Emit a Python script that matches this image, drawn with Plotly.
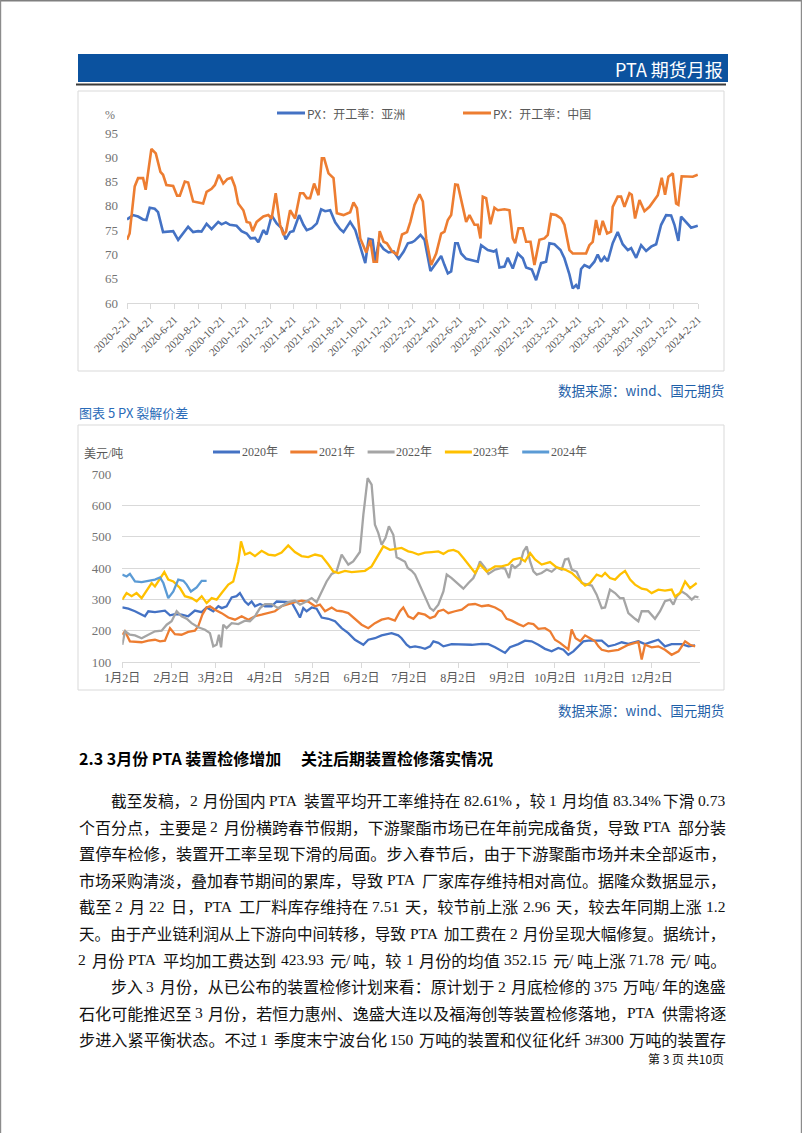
import numpy as np
import pandas as pd
import plotly.graph_objects as go

W, H = 802, 1133


def fx(x):
    return x / W


def fy(y):
    return 1 - y / H


# ---------------- Chart 1: PX operating rate (months since 2020-02-21, %) ----------------
c1_start = "2020-02-21"
asia_points = [
    (0, 77.2), (0.51, 78.1), (0.93, 77.8), (1.35, 77.2), (1.63, 77.1), (1.91, 79.6), (2.33, 79.4), (2.61, 78.7),
    (3.03, 74.6), (3.88, 74.8), (4.30, 73.0), (4.72, 74.3), (5.14, 75.7), (5.56, 74.6), (5.98, 74.8), (6.26, 74.7),
    (6.69, 76.3), (7.11, 75.2), (7.67, 76.7), (7.95, 76.2), (8.31, 76.6), (8.65, 76.1), (9.21, 75.9), (9.63, 74.8),
    (10.06, 74.3), (10.39, 73.3), (10.76, 73.4), (11.04, 72.5), (11.46, 75.0), (11.74, 74.1), (12.16, 78.0),
    (12.58, 76.4), (13.01, 75.4), (13.34, 73.1), (13.71, 74.6), (13.99, 74.8), (14.47, 78.1), (14.83, 76.1),
    (15.11, 75.0), (15.53, 75.4), (15.96, 76.4), (16.32, 79.3), (16.66, 78.9), (17.08, 79.1), (17.50, 76.6),
    (17.92, 75.2), (18.20, 74.6), (18.76, 76.7), (19.19, 75.0), (19.61, 71.6), (20.03, 68.2), (20.31, 73.2),
    (20.65, 73.0), (20.87, 68.5), (21.15, 72.5), (21.57, 71.1), (21.99, 70.4), (22.42, 70.6), (22.84, 69.1),
    (23.26, 70.6), (23.61, 72.3), (23.96, 72.5), (24.17, 72.8), (24.67, 74.0), (25.01, 73.0), (25.51, 66.6),
    (25.99, 68.2), (26.41, 69.7), (26.69, 67.8), (26.97, 66.1), (27.25, 66.5), (27.59, 72.3), (27.81, 72.3),
    (28.09, 70.2), (28.51, 69.1), (28.93, 68.9), (29.49, 68.5), (29.77, 71.9), (30.33, 70.9), (30.83, 70.6),
    (31.03, 70.9), (31.31, 67.3), (31.73, 67.5), (32.01, 69.3), (32.43, 67.1), (32.85, 70.2), (33.27, 69.2),
    (33.55, 67.3), (34.03, 66.9), (34.39, 64.7), (34.81, 68.2), (35.23, 68.5), (35.51, 72.3), (35.93, 72.1),
    (36.44, 70.9), (36.77, 69.2), (37.19, 65.9), (37.47, 63.0), (37.75, 63.7), (37.95, 62.9), (38.17, 67.0),
    (38.45, 67.8), (38.87, 67.3), (39.29, 68.5), (39.57, 70.0), (39.85, 68.5), (40.13, 69.5), (40.41, 68.6),
    (40.83, 72.3), (41.25, 74.6), (41.67, 72.1), (42.10, 70.9), (42.38, 71.3), (42.80, 69.3), (43.22, 71.9),
    (43.64, 70.7), (44.06, 71.6), (44.48, 72.1), (44.90, 76.1), (45.32, 78.1), (45.74, 78.0), (46.02, 76.1),
    (46.35, 72.8), (46.58, 77.8), (47.00, 76.7), (47.42, 75.5), (47.70, 75.7), (47.98, 75.9),
]
china_points = [
    (0, 73.0), (0.22, 74.3), (0.65, 84.0), (0.93, 85.7), (1.35, 85.7), (1.57, 83.3), (2.05, 91.7), (2.42, 90.8),
    (2.81, 87.0), (3.03, 86.4), (3.31, 84.3), (3.88, 84.1), (4.21, 82.1), (4.44, 82.1), (4.86, 85.0), (5.14, 84.8),
    (5.56, 80.9), (6.12, 80.7), (6.40, 80.5), (6.69, 82.9), (7.11, 83.5), (7.39, 84.3), (7.72, 86.4), (8.09, 84.6),
    (8.43, 85.5), (8.79, 85.8), (9.07, 84.0), (9.35, 80.5), (9.78, 79.1), (10.06, 76.7), (10.34, 76.5),
    (10.56, 74.8), (10.90, 76.7), (11.46, 77.8), (11.88, 78.1), (12.16, 77.4), (12.50, 82.6), (12.87, 76.1),
    (13.15, 74.0), (13.37, 74.7), (13.71, 79.1), (14.13, 77.4), (14.55, 82.6), (14.83, 82.6), (15.11, 81.6),
    (15.39, 81.6), (15.73, 84.6), (16.10, 82.2), (16.38, 89.8), (16.57, 89.8), (16.94, 86.7), (17.36, 85.7),
    (17.64, 78.5), (18.20, 78.1), (18.76, 78.7), (19.04, 80.7), (19.33, 79.5), (19.61, 73.3), (20.11, 70.4),
    (20.45, 73.0), (20.73, 68.5), (21.01, 68.5), (21.24, 74.8), (21.57, 72.6), (21.85, 72.3), (22.28, 70.6),
    (22.70, 70.0), (23.12, 74.1), (23.54, 74.6), (23.82, 76.7), (24.17, 80.2), (24.59, 82.4), (24.87, 80.9),
    (25.15, 73.3), (25.57, 67.8), (25.99, 70.2), (26.41, 74.3), (26.69, 74.7), (26.97, 77.1), (27.25, 78.1),
    (27.59, 84.4), (27.81, 84.3), (28.09, 81.2), (28.51, 76.7), (28.79, 78.1), (29.21, 76.1), (29.49, 76.1),
    (29.71, 73.3), (29.91, 81.9), (30.19, 81.6), (30.55, 76.2), (30.89, 79.6), (31.17, 79.1), (31.73, 79.3),
    (32.15, 79.1), (32.43, 73.3), (32.63, 72.3), (32.91, 75.4), (33.27, 75.4), (33.55, 72.6), (33.92, 72.6),
    (34.25, 67.8), (34.67, 73.0), (35.09, 73.3), (35.37, 74.0), (35.65, 78.3), (36.07, 78.1), (36.49, 77.4),
    (36.77, 76.1), (37.19, 70.9), (37.47, 70.2), (38.17, 70.2), (38.59, 70.2), (38.87, 71.9), (39.15, 72.6),
    (39.43, 77.1), (39.71, 74.0), (39.99, 76.9), (40.36, 74.3), (40.69, 74.7), (40.83, 79.8), (41.25, 81.9),
    (41.53, 81.9), (41.82, 79.8), (42.24, 82.6), (42.43, 82.3), (42.71, 77.4), (43.08, 81.2), (43.50, 78.9),
    (43.92, 79.8), (44.34, 81.2), (44.62, 82.2), (44.95, 85.8), (45.23, 82.3), (45.51, 86.0), (45.88, 86.7),
    (46.16, 80.5), (46.35, 80.2), (46.63, 86.1), (47.14, 86.0), (47.56, 86.0), (47.98, 86.4),
]
c1_tick_labels = [
    "2020-2-21", "2020-4-21", "2020-6-21", "2020-8-21", "2020-10-21", "2020-12-21",
    "2021-2-21", "2021-4-21", "2021-6-21", "2021-8-21", "2021-10-21", "2021-12-21",
    "2022-2-21", "2022-4-21", "2022-6-21", "2022-8-21", "2022-10-21", "2022-12-21",
    "2023-2-21", "2023-4-21", "2023-6-21", "2023-8-21", "2023-10-21", "2023-12-21",
    "2024-2-21",
]
c1_names = ["PX：开工率：亚洲", "PX：开工率：中国"]
c1_colors = ["#4472C4", "#ED7D31"]

# ---------------- Chart 2: PX cracking spread (days since Jan 2, USD/t) ----------------
s2020 = [
    (0, 274), (3.8, 270), (8.0, 262), (12.2, 253), (14.3, 246), (16.4, 262), (20.6, 259), (26.9, 264), (30.1, 249),
    (33.2, 253), (37.4, 251), (41.6, 246), (45.8, 264), (50.1, 259), (53.2, 274), (57.4, 262), (60.6, 278),
    (62.7, 272), (65.8, 278), (69.0, 306), (72.1, 310), (74.2, 320), (77.4, 293), (79.5, 283), (81.6, 293),
    (83.7, 278), (86.9, 285), (90.0, 278), (94.2, 278), (97.4, 293), (100.5, 293), (103.7, 291), (106.8, 291),
    (110.0, 262), (112.1, 242), (114.2, 272), (116.3, 262), (119.5, 274), (122.6, 270), (125.8, 242), (130.0, 238),
    (134.2, 230), (138.4, 208), (142.6, 192), (146.8, 171), (152.1, 155), (155.2, 171), (159.4, 176), (163.6, 185),
    (169.9, 192), (174.1, 185), (176.2, 176), (179.4, 155), (181.5, 147), (184.7, 150), (187.9, 147), (191.0, 142),
    (194.2, 150), (196.3, 166), (199.4, 161), (202.6, 150), (207.8, 157), (214.2, 155), (220.5, 155), (226.8, 158),
    (231.0, 157), (235.2, 147), (241.5, 129), (244.6, 147), (249.9, 157), (254.1, 168), (258.3, 166), (262.5, 155),
    (266.7, 142), (270.9, 134), (275.1, 145), (278.3, 139), (281.4, 123), (284.6, 134), (287.8, 150), (290.9, 166),
    (294.1, 168), (298.3, 169), (302.5, 168), (306.7, 150), (310.9, 155), (315.1, 163), (319.3, 158), (325.6, 166),
    (329.8, 157), (334.0, 164), (338.2, 171), (342.4, 150), (346.6, 157), (353.0, 157), (357.2, 150), (361.4, 153),
]
s2021 = [
    (0, 187), (1.7, 198), (4.8, 166), (8.0, 164), (12.2, 163), (16.4, 168), (20.6, 171), (23.8, 166), (26.9, 168),
    (30.1, 208), (33.2, 189), (37.4, 187), (41.6, 196), (45.8, 200), (47.9, 214), (50.5, 251), (53.2, 274),
    (55.3, 278), (58.5, 267), (62.7, 256), (66.9, 242), (71.1, 235), (75.3, 246), (79.5, 235), (83.7, 246),
    (87.9, 251), (92.1, 256), (96.3, 262), (100.5, 278), (104.7, 285), (108.9, 291), (113.1, 296), (117.3, 293),
    (121.6, 278), (124.7, 283), (127.9, 262), (132.1, 274), (135.2, 264), (138.4, 262), (142.6, 256), (146.8, 238),
    (151.0, 219), (155.2, 208), (159.4, 224), (163.6, 235), (167.8, 240), (172.0, 232), (175.2, 262), (177.3, 274),
    (180.4, 246), (183.7, 238), (186.8, 256), (191.0, 251), (194.2, 240), (197.3, 246), (199.4, 262), (202.6, 267),
    (205.7, 256), (209.9, 262), (214.2, 267), (218.4, 283), (222.6, 285), (226.8, 278), (231.0, 281), (235.2, 274),
    (239.4, 262), (242.5, 238), (245.7, 232), (249.9, 221), (253.1, 214), (256.2, 224), (259.4, 221), (262.5, 206),
    (266.7, 208), (269.9, 198), (273.0, 171), (276.2, 161), (279.3, 150), (281.4, 140), (283.5, 204), (286.0, 176),
    (289.0, 166), (292.0, 185), (295.1, 176), (298.3, 166), (300.4, 150), (302.5, 139), (306.7, 134), (313.0, 139),
    (319.3, 155), (325.6, 164), (327.7, 108), (329.8, 155), (334.0, 147), (338.2, 150), (342.4, 139), (346.6, 123),
    (350.9, 134), (355.1, 166), (358.2, 155), (361.4, 150),
]
s2022 = [
    (0, 155), (1.7, 198), (4.8, 187), (8.0, 185), (12.2, 176), (16.4, 187), (20.6, 198), (24.8, 200), (28.0, 219),
    (31.1, 230), (34.3, 262), (37.4, 246), (40.6, 238), (43.7, 224), (47.9, 211), (52.2, 203), (55.3, 192),
    (57.4, 150), (59.5, 155), (61.0, 187), (62.3, 147), (63.7, 219), (65.8, 208), (69.0, 224), (73.2, 221),
    (77.4, 232), (80.5, 230), (83.7, 246), (86.9, 272), (90.0, 285), (94.2, 285), (98.4, 272), (101.6, 283),
    (104.7, 291), (108.9, 296), (112.1, 283), (115.2, 291), (119.5, 304), (122.6, 291), (125.8, 325), (128.9, 357),
    (132.1, 381), (135.2, 389), (138.4, 443), (142.6, 411), (145.7, 421), (149.9, 451), (152.1, 570), (154.8, 687),
    (157.3, 666), (159.4, 538), (161.5, 512), (163.6, 474), (166.1, 496), (168.2, 533), (171.0, 506), (173.1, 434),
    (175.8, 427), (178.4, 420), (180.1, 400), (182.6, 391), (184.7, 379), (187.9, 341), (191.0, 310), (194.2, 272),
    (196.3, 264), (199.4, 283), (202.6, 325), (204.7, 379), (207.8, 368), (212.0, 347), (215.2, 334), (218.4, 352),
    (221.5, 368), (223.6, 391), (225.7, 421), (228.9, 400), (231.0, 381), (235.2, 395), (239.4, 400), (241.5, 398),
    (244.0, 368), (245.7, 411), (247.8, 400), (251.0, 413), (253.1, 453), (255.2, 469), (257.3, 421), (259.4, 389),
    (261.5, 379), (264.6, 384), (267.8, 395), (270.9, 388), (274.1, 402), (277.2, 395), (279.3, 427), (281.4, 430),
    (283.6, 395), (286.7, 388), (289.9, 352), (293.0, 348), (296.2, 344), (299.3, 315), (302.5, 272), (304.6, 274),
    (307.7, 331), (310.9, 320), (314.0, 304), (316.2, 304), (319.3, 256), (323.5, 238), (325.6, 230), (327.7, 262),
    (331.9, 262), (336.1, 238), (339.3, 262), (342.4, 294), (345.6, 299), (347.7, 283), (349.8, 309), (353.0, 325),
    (356.1, 315), (359.3, 299), (361.4, 309), (363.5, 306),
]
s2023 = [
    (0, 299), (2.7, 320), (5.9, 310), (9.0, 320), (12.2, 304), (15.4, 328), (18.5, 352), (20.6, 341), (23.8, 368),
    (26.5, 387), (29.0, 363), (32.2, 357), (36.4, 336), (39.5, 310), (43.7, 304), (46.9, 294), (50.1, 310),
    (53.2, 288), (56.4, 304), (59.5, 299), (62.7, 320), (66.9, 347), (70.0, 357), (73.2, 421), (74.9, 485),
    (77.4, 443), (80.5, 449), (83.7, 438), (87.9, 455), (92.1, 443), (96.3, 440), (100.5, 449), (104.7, 472),
    (108.9, 451), (113.1, 438), (117.3, 435), (121.6, 443), (125.8, 438), (130.0, 411), (133.1, 389), (136.3, 384),
    (140.5, 391), (144.7, 387), (148.9, 389), (153.1, 391), (157.3, 405), (161.5, 440), (164.7, 469), (168.9, 458),
    (173.1, 461), (176.2, 464), (180.4, 453), (182.6, 451), (186.8, 443), (191.0, 449), (195.2, 451), (199.4, 453),
    (202.6, 445), (205.7, 455), (208.9, 458), (212.0, 451), (215.2, 432), (219.4, 405), (222.6, 384), (225.7, 411),
    (229.9, 389), (235.2, 405), (239.4, 405), (243.6, 411), (246.7, 427), (251.0, 432), (254.1, 421), (257.3, 448),
    (260.4, 427), (264.6, 411), (269.9, 419), (274.1, 402), (279.3, 395), (283.6, 384), (287.8, 363), (292.0, 344),
    (295.1, 352), (299.3, 379), (302.5, 373), (304.6, 384), (307.7, 368), (310.9, 363), (314.0, 379), (317.2, 391),
    (320.4, 363), (323.5, 347), (327.7, 334), (330.9, 331), (334.0, 320), (338.2, 331), (342.4, 328), (346.6, 331),
    (348.7, 309), (351.9, 320), (355.1, 357), (358.2, 336), (362.4, 352),
]
s2024 = [
    (0, 379), (2.7, 373), (4.8, 381), (8.0, 357), (12.2, 355), (16.4, 359), (20.6, 363), (23.8, 370), (25.9, 352),
    (29.0, 304), (32.2, 325), (35.3, 363), (38.5, 359), (40.6, 347), (43.3, 325), (46.9, 338), (50.1, 359), (53.2, 359),
]
c2_series = [("2020年", s2020, "#4472C4"), ("2021年", s2021, "#ED7D31"), ("2022年", s2022, "#A5A5A5"),
             ("2023年", s2023, "#FFC000"), ("2024年", s2024, "#5B9BD5")]
c2_tick_labels = ["1月2日", "2月2日", "3月2日", "4月2日", "5月2日", "6月2日",
                  "7月2日", "8月2日", "9月2日", "10月2日", "11月2日", "12月2日"]
c2_base = "2023-01-02"

body_lines = [
    "截至发稿，2 月份国内 PTA 装置平均开工率维持在 82.61%，较 1 月均值 83.34%下滑 0.73",
    "个百分点，主要是 2 月份横跨春节假期，下游聚酯市场已在年前完成备货，导致 PTA 部分装",
    "置停车检修，装置开工率呈现下滑的局面。步入春节后，由于下游聚酯市场并未全部返市，",
    "市场采购清淡，叠加春节期间的累库，导致 PTA 厂家库存维持相对高位。据隆众数据显示，",
    "截至 2 月 22 日，PTA 工厂料库存维持在 7.51 天，较节前上涨 2.96 天，较去年同期上涨 1.2",
    "天。由于产业链利润从上下游向中间转移，导致 PTA 加工费在 2 月份呈现大幅修复。据统计，",
    "2 月份 PTA 平均加工费达到 423.93 元/吨，较 1 月份的均值 352.15 元/吨上涨 71.78 元/吨。",
    "步入 3 月份，从已公布的装置检修计划来看：原计划于 2 月底检修的 375 万吨/年的逸盛",
    "石化可能推迟至 3 月份，若恒力惠州、逸盛大连以及福海创等装置检修落地，PTA 供需将逐",
    "步进入紧平衡状态。不过 1 季度末宁波台化 150 万吨的装置和仪征化纤 3#300 万吨的装置存",
]
indented = {0, 7}

# ---------------- Build figure ----------------
SERIF = "Liberation Serif, Noto Sans CJK SC, serif"
CJK = "Noto Sans CJK SC, sans-serif"
AX_GRAY = "#595959"
LINE_GRAY = "#D9D9D9"

fig = go.Figure()

c1_base = pd.Timestamp(c1_start)
for (name, pts), color in zip([(c1_names[0], asia_points), (c1_names[1], china_points)], c1_colors):
    m = np.array([p[0] for p in pts])
    v = [p[1] for p in pts]
    dates = c1_base + pd.to_timedelta(m * 30.4375, unit="D")
    fig.add_trace(go.Scatter(x=dates, y=v, mode="lines", name=name, showlegend=False,
                             line=dict(color=color, width=2.6), xaxis="x", yaxis="y", hoverinfo="skip"))

b2 = pd.Timestamp(c2_base)
for name, pts, color in c2_series:
    d = np.array([p[0] for p in pts])
    v = [p[1] for p in pts]
    dates = b2 + pd.to_timedelta(d, unit="D")
    fig.add_trace(go.Scatter(x=dates, y=v, mode="lines", name=name, showlegend=False,
                             line=dict(color=color, width=2.3), xaxis="x2", yaxis="y2", hoverinfo="skip"))

c1_tickvals = [pd.Timestamp(t) for t in c1_tick_labels]
c2_tickvals = [b2 + pd.DateOffset(months=i) for i in range(12)]

fig.update_layout(
    width=W, height=H, margin=dict(l=0, r=0, t=0, b=0, pad=0, autoexpand=False),
    paper_bgcolor="white", plot_bgcolor="rgba(0,0,0,0)", hovermode=False,
    xaxis=dict(domain=[fx(127), fx(698)], anchor="y", type="date", automargin=False,
               range=[c1_tickvals[0], c1_tickvals[-1]],
               tickvals=c1_tickvals, ticktext=c1_tick_labels, tickangle=-45,
               tickfont=dict(family=SERIF, size=11, color=AX_GRAY),
               showline=True, linecolor=LINE_GRAY, linewidth=1,
               ticks="outside", ticklen=5, tickcolor=LINE_GRAY, showgrid=False, zeroline=False),
    yaxis=dict(domain=[fy(303), fy(133)], anchor="x", range=[60, 95], dtick=5, automargin=False,
               tickfont=dict(family=SERIF, size=13, color="#737373"),
               showgrid=False, zeroline=False, showline=False, ticks="", ticklabelstandoff=8),
    xaxis2=dict(domain=[fx(122.3), fx(700)], anchor="y2", type="date", automargin=False,
                range=[b2, b2 + pd.Timedelta(days=364.5)],
                tickvals=c2_tickvals, ticktext=c2_tick_labels, tickangle=0,
                tickfont=dict(family=SERIF, size=12, color=AX_GRAY),
                showline=True, linecolor=LINE_GRAY, linewidth=1,
                ticks="outside", ticklen=5, tickcolor=LINE_GRAY, showgrid=False, zeroline=False),
    yaxis2=dict(domain=[fy(662), fy(474)], anchor="x2", range=[100, 700], dtick=100, automargin=False,
                tickfont=dict(family=SERIF, size=13, color="#737373"),
                showgrid=True, gridcolor=LINE_GRAY, gridwidth=1,
                zeroline=False, showline=False, ticks="", ticklabelstandoff=10),
)

shapes = []
annotations = []


def rect(x0, y0, x1, y1, line=None, fill=None, lw=1):
    shapes.append(dict(type="rect", xref="paper", yref="paper", x0=fx(x0), x1=fx(x1), y0=fy(y1), y1=fy(y0),
                       line=dict(color=line or "rgba(0,0,0,0)", width=lw if line else 0),
                       fillcolor=fill or "rgba(0,0,0,0)", layer="below"))


def hline(x0, x1, y, color, width):
    shapes.append(dict(type="line", xref="paper", yref="paper", x0=fx(x0), x1=fx(x1), y0=fy(y), y1=fy(y),
                       line=dict(color=color, width=width)))


def vline(x, y0, y1, color, width):
    shapes.append(dict(type="line", xref="paper", yref="paper", x0=fx(x), x1=fx(x), y0=fy(y0), y1=fy(y1),
                       line=dict(color=color, width=width)))


def text(x, y, s, size, color="#000000", family=CJK, xanchor="left"):
    annotations.append(dict(xref="paper", yref="paper", x=fx(x), y=fy(y), text=s, showarrow=False,
                            xanchor=xanchor, yanchor="middle", borderpad=0,
                            font=dict(family=family, size=size, color=color)))


# Liberation Serif advance widths (em) for the ASCII glyphs used in the body text
SERIF_W = {".": 0.25, "%": 0.833, "/": 0.278, "#": 0.5, "P": 0.556, "T": 0.611, "A": 0.722}
LATIN_FS = 15.5


def ascii_width(s):
    return sum(SERIF_W.get(c, 0.5) for c in s) * LATIN_FS


def justified(line, x0, x1, y, pitch=16.2, min_sp=4.5, join_gap=1.5, color="#111111"):
    """Lay out a CJK line on a character grid: CJK runs at fixed pitch,
    ASCII words at natural width, spaces absorb the remaining width."""
    segs = []
    cur, kind = "", None
    for ch in line:
        k = "sp" if ch == " " else ("a" if ord(ch) < 128 else "c")
        if k != kind and cur:
            segs.append((kind, cur))
            cur = ""
        kind = k
        cur += ch
    if cur:
        segs.append((kind, cur))
    # direct CJK/ASCII joins (no space) get a tiny fixed gap
    n_join = sum(1 for a, b in zip(segs, segs[1:]) if "sp" not in (a[0], b[0]))
    n_c = sum(len(s) for k, s in segs if k == "c")
    a_w = sum(ascii_width(s) for k, s in segs if k == "a") + n_join * join_gap
    n_sp = sum(len(s) for k, s in segs if k == "sp")
    sp_w = (x1 - x0 - n_c * pitch - a_w) / n_sp if n_sp else 0
    if n_sp and sp_w < min_sp:
        sp_w = min_sp
        pitch = (x1 - x0 - a_w - n_sp * sp_w) / n_c
    x = x0
    prev = None
    for k, s in segs:
        if prev is not None and "sp" not in (prev, k):
            x += join_gap
        if k == "c":
            text(x, y, s, pitch, color, CJK, "left")
            x += len(s) * pitch
        elif k == "a":
            w = ascii_width(s)
            text(x + w / 2, y, s, LATIN_FS, color, "Liberation Serif, serif", "center")
            x += w
        else:
            x += len(s) * sp_w
        prev = k


# page border
hline(0, 802, 0.8, "#7f7f7f", 1.6)
vline(0.6, 0, 1133, "#8c8c8c", 1.2)
vline(801.4, 0, 1133, "#8c8c8c", 1.2)

# header
rect(78, 54, 728, 82, fill="#0B529F")
hline(76, 726, 84.5, "#3a3a3a", 2)
text(724, 68.5, "PTA 期货月报", 18, "#ffffff", CJK, "right")

# chart boxes
rect(78, 91, 724, 371, line=LINE_GRAY, lw=1)
rect(78, 425, 724, 690, line=LINE_GRAY, lw=1)

# chart 1 legend & unit
leg1 = [(277, c1_names[0], c1_colors[0]), (463, c1_names[1], c1_colors[1])]
for x0, name, color in leg1:
    hline(x0, x0 + 28, 113, color, 3)
    text(x0 + 29, 113, name, 12, AX_GRAY, CJK)
text(110, 115, "%", 12, "#737373", SERIF, "center")

# chart 2 legend & unit
for i, (name, pts, color) in enumerate(c2_series):
    x0 = 213 + i * 77.3
    hline(x0, x0 + 27, 452, color, 3)
    text(x0 + 27.5, 452, name, 12, AX_GRAY, SERIF)
text(83, 454, "美元/吨", 12, AX_GRAY, SERIF)

# captions
SRC_BLUE = "#1F5FA8"
text(725, 390, "数据来源：wind、国元期货", 13.5, SRC_BLUE, CJK, "right")
text(725, 710, "数据来源：wind、国元期货", 13.5, SRC_BLUE, CJK, "right")
text(78, 412, "图表 5 PX 裂解价差", 13, "#2A6BB8", CJK)

# section heading
text(78, 758, "<b>2.3 3月份 PTA 装置检修增加\u3000 关注后期装置检修落实情况</b>", 16, "#000000", CJK)

# body
for i, line in enumerate(body_lines):
    y = 800 + i * 26.6
    x = 110 if i in indented else 78
    justified(line, x, 725, y)

# footer
text(725, 1058, "第 3 页 共10页", 12, "#111111", CJK, "right")

fig.update_layout(shapes=shapes, annotations=annotations)
fig.write_html("out.html")
